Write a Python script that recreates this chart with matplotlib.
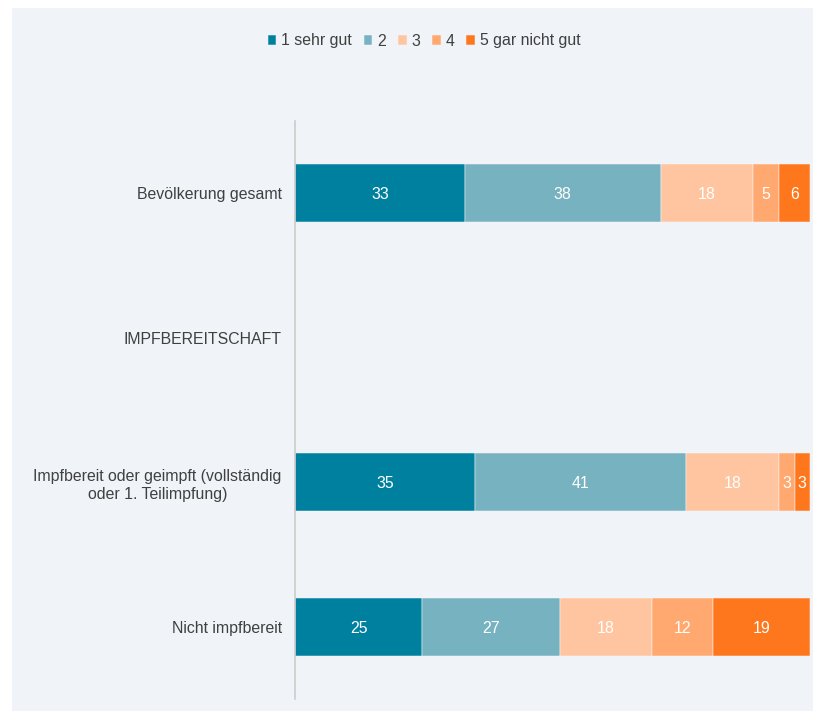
import matplotlib
matplotlib.use("Agg")
import matplotlib.pyplot as plt
from matplotlib.patches import Rectangle
import numpy as np

plt.rcParams['font.family'] = ['Liberation Sans', 'DejaVu Sans']

categories = ["Bevölkerung gesamt", "IMPFBEREITSCHAFT",
              "Impfbereit oder geimpft (vollständig\noder 1. Teilimpfung)", "Nicht impfbereit"]
series_names = ["1 sehr gut", "2", "3", "4", "5 gar nicht gut"]
v1 = [33, None, 35, 25]
v2 = [38, None, 41, 27]
v3 = [18, None, 18, 18]
v4 = [5, None, 3, 12]
v5 = [6, None, 3, 19]
colors = ["#00809F", "#77B2C0", "#FFC5A0", "#FFA870", "#FF771D"]

W, H = 813, 711
FS = 11.4
fig = plt.figure(figsize=(W / 100, H / 100), dpi=100, facecolor="white")
bg = "#F0F4F8"
fig.patches.append(Rectangle((12 / W, 0), 1 - 12 / W, 1 - 8 / H, transform=fig.transFigure,
                             facecolor=bg, edgecolor="none", zorder=-10))

ax = fig.add_axes([295 / W, (H - 699) / H, (810 - 295) / W, (699 - 121) / H])
ax.set_facecolor(bg)
ax.patch.set_alpha(0)

series = [v1, v2, v3, v4, v5]
n = len(categories)
y = np.arange(n)
data = np.array([[np.nan if v is None else v for v in s] for s in series], dtype=float)
totals = np.nansum(data, axis=0)
left = np.zeros(n)
for i, s in enumerate(series):
    vals = data[i]
    frac = np.where(np.isnan(vals), 0, vals / np.where(totals == 0, 1, totals) * 100)
    ax.barh(y, frac, left=left, height=0.4, color=colors[i], edgecolor="#F4F7FA",
            linewidth=0.35, label=series_names[i])
    for j in range(n):
        if not np.isnan(vals[j]):
            ax.text(left[j] + frac[j] / 2, y[j], f"{int(vals[j])}", ha="center",
                    va="center_baseline", color="white", fontsize=FS)
    left += frac

ax.set_xlim(0, 100)
ax.set_ylim(n - 0.5, -0.5)
ax.set_yticks(y)
ax.set_yticklabels(categories, fontsize=FS, color="#404040", ha="right",
                   multialignment="center", linespacing=1.3)
for t in ax.get_yticklabels():
    t.set_va("center_baseline")
ax.tick_params(axis="y", length=0, pad=9.5)
ax.set_xticks([])
for sp in ["top", "right", "bottom"]:
    ax.spines[sp].set_visible(False)
ax.spines["left"].set_color("#CCCCCC")
ax.spines["left"].set_linewidth(1.2)

handles, labels = ax.get_legend_handles_labels()
leg = fig.legend(handles, labels, loc="center", bbox_to_anchor=(424 / W, 1 - 41 / H), ncol=5,
                 frameon=False, fontsize=FS, handlelength=0.55, handleheight=0.55,
                 handletextpad=0.3, columnspacing=0.75, labelcolor="#404040")

fig.savefig("out.png", dpi=100, facecolor="white")
